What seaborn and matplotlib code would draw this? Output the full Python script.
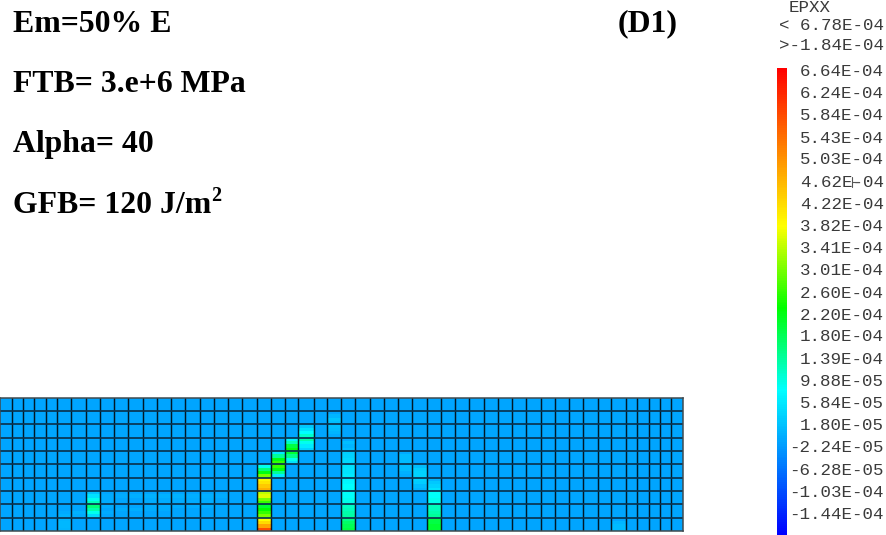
import numpy as np
import pandas as pd
import seaborn as sns
import matplotlib
matplotlib.use("Agg")
import matplotlib.pyplot as plt
from matplotlib.colors import LinearSegmentedColormap
from matplotlib.lines import Line2D

# ---- data (strain in units of 1e-4) ----
col_edges = [0, 11.7, 23.3, 34.3, 45.7, 57.3, 71, 86, 100.3, 114, 128.3, 143.3, 157.3, 171, 185.3,
             199.7, 214, 228, 242, 256.7, 270.7, 284.7, 298.3, 313.7, 327.3, 341.3, 355.3, 370,
             384.3, 398.3, 412.3, 427.3, 441.3, 455.3, 469.3, 484, 498.3, 512, 526.3, 541, 555,
             569, 583, 597.7, 611.3, 625.7, 637.3, 649, 660.3, 670.7, 682.7]
n_rows = 10
background = -0.13
hot_cells = [
    # (column, row from top, values of four bands from top to bottom)
    (19, 5, [0.9, 1.6, 2.2, 3.0]), (19, 6, [3.9, 4.1, 4.4, 4.7]), (19, 7, [3.4, 3.6, 3.0, 2.6]),
    (19, 8, [2.0, 2.3, 2.6, 3.0]), (19, 9, [3.8, 4.2, 4.8, 5.8]),
    (20, 4, [0.6, 1.4, 2.2, 2.6]), (20, 5, [2.6, 2.2, 1.4, 0.6]),
    (21, 3, [0.7, 1.2, 1.9, 2.2]), (21, 4, [2.0, 1.5, 0.9, 0.5]),
    (22, 2, [0.25, 0.5, 0.8, 1.1]), (22, 3, [1.3, 0.9, 0.6, 0.35]),
    (24, 1, [-0.13, 0.05, 0.2, 0.15]), (24, 2, [0.15, 0.12, 0.05, -0.05]),
    (25, 3, [-0.05, 0.15, 0.05, 0.15]), (25, 4, [0.3, 0.35, 0.4, 0.4]), (25, 5, [0.5, 0.55, 0.55, 0.6]),
    (25, 6, [0.7, 0.75, 0.8, 0.85]), (25, 7, [0.85, 0.85, 0.9, 0.95]), (25, 8, [1.15, 1.2, 1.3, 1.35]),
    (25, 9, [1.5, 1.7, 1.8, 1.9]),
    (7, 7, [0.2, 0.5, 0.9, 1.2]), (7, 8, [1.6, 1.3, 0.9, 0.45]),
    (5, 8, [-0.13, -0.13, -0.05, 0.0]), (5, 9, [0.05, 0.08, 0.08, 0.05]),
    (6, 8, [-0.13, -0.13, 0.0, -0.05]),
    (29, 4, [-0.05, 0.1, 0.12, 0.12]), (29, 5, [0.12, 0.1, 0.0, -0.05]),
    (30, 5, [0.15, 0.3, 0.35, 0.35]), (30, 6, [0.35, 0.3, 0.15, 0.05]),
    (31, 6, [0.05, 0.25, 0.35, 0.5]), (31, 7, [0.85, 0.85, 0.9, 0.9]), (31, 8, [1.2, 1.2, 1.3, 1.4]),
    (31, 9, [1.9, 1.9, 2.0, 2.0]),
    (44, 9, [-0.13, 0.05, 0.12, 0.1]),
    (8, 7, [-0.13, -0.05, -0.05, -0.05]), (8, 8, [-0.05, -0.13, -0.05, -0.13]),
    (9, 7, [-0.13, -0.05, -0.13, -0.13]), (9, 8, [-0.13, -0.05, -0.13, -0.13]),
    (10, 7, [-0.13, -0.02, -0.13, -0.13]), (10, 8, [-0.13, -0.02, -0.13, -0.13]),
    (11, 7, [-0.13, 0.02, -0.05, -0.05]), (11, 8, [-0.05, -0.05, -0.13, -0.13]),
    (12, 7, [-0.13, 0.02, -0.05, -0.05]), (12, 8, [-0.05, -0.05, -0.13, -0.13]),
    (13, 7, [-0.13, 0.02, -0.05, -0.05]), (13, 8, [-0.05, -0.13, -0.13, -0.13]),
    (14, 7, [-0.13, -0.02, -0.05, -0.05]), (14, 8, [-0.05, -0.13, -0.13, -0.13]),
    (15, 7, [-0.13, -0.02, -0.05, -0.05]), (15, 8, [-0.05, -0.13, -0.13, -0.13]),
    (16, 7, [-0.13, -0.05, -0.13, -0.13]),
]
cbar_values = [6.64, 6.24, 5.84, 5.43, 5.03, 4.62, 4.22, 3.82, 3.41, 3.01, 2.60, 2.20, 1.80, 1.39,
               0.988, 0.584, 0.180, -0.224, -0.628, -1.03, -1.44]
cbar_labels = ["6.64E-04", "6.24E-04", "5.84E-04", "5.43E-04", "5.03E-04", "4.62E-04", "4.22E-04",
               "3.82E-04", "3.41E-04", "3.01E-04", "2.60E-04", "2.20E-04", "1.80E-04", "1.39E-04",
               "9.88E-05", "5.84E-05", "1.80E-05", "-2.24E-05", "-6.28E-05", "-1.03E-04", "-1.44E-04"]
value_min, value_max = -1.84, 6.68
note_lines = ["Em=50% E", "FTB= 3.e+6 MPa", "Alpha= 40", "GFB= 120 J/m"]

# ---- build the field ----
W, H = 887, 535
bands = 4
n_cols = len(col_edges) - 1
cells = np.full((n_rows * bands, n_cols), background, dtype=float)
for c, r, vals in hot_cells:
    cells[r * bands:(r + 1) * bands, c] = vals
px_edges = np.round(col_edges).astype(int)
field = pd.DataFrame(np.repeat(cells, np.diff(px_edges), axis=1))

sns.set_theme(style="white")
rainbow = LinearSegmentedColormap.from_list(
    "rainbow64",
    [(0.0, "#0000ff"), (0.31, "#00ffff"), (0.486, "#00ff00"), (0.662, "#ffff00"), (1.0, "#ff0000")],
    N=256)

fig = plt.figure(figsize=(W / 100, H / 100), dpi=100, facecolor="white")
def box(x0, y0, x1, y1):
    return [x0 / W, 1 - y1 / H, (x1 - x0) / W, (y1 - y0) / H]

ax = fig.add_axes(box(0, 397.5, 683, 531))
cax = fig.add_axes(box(777, 68, 787, 535))
sns.heatmap(field, ax=ax, cbar_ax=cax, cmap=rainbow, vmin=value_min, vmax=value_max,
            xticklabels=False, yticklabels=False, cbar=True)

# mesh
for e in px_edges[1:-1]:
    ax.axvline(e, color="#02101a", lw=1.05, alpha=0.95)
for k in range(1, n_rows):
    ax.axhline(k * bands, color="#0a3350", lw=1.25)
for side in ax.spines.values():
    side.set_visible(True)
    side.set_color("#3f4a50")
    side.set_linewidth(1.1)

# colour bar labels
mono = "Liberation Mono"
txt = "#3a3a3a"
cbar = ax.collections[0].colorbar
cbar.outline.set_visible(False)
cbar.set_ticks(cbar_values, labels=cbar_labels)
cax.tick_params(length=0, pad=(884 - 787) * 0.72, labelsize=12.6, labelcolor=txt)
for t in cax.get_yticklabels():
    t.set_ha("right")
    t.set_va("center_baseline")
    t.set_family(mono)

def ftext(x, y, s, **kw):
    fig.text(x / W, 1 - y / H, s, **kw)

ftext(789, 7, "EPXX", family=mono, fontsize=12.6, color=txt, va="center", ha="left")
ftext(884, 25, "< 6.78E-04", family=mono, fontsize=12.6, color=txt, va="center", ha="right")
ftext(884, 45, ">-1.84E-04", family=mono, fontsize=12.6, color=txt, va="center", ha="right")
fig.add_artist(Line2D([852 / W, 852 / W], [1 - 177 / H, 1 - 187 / H], color="#555555", lw=0.8))
fig.add_artist(Line2D([852 / W, 859 / W], [1 - 182 / H, 1 - 182 / H], color="#555555", lw=0.8))

# notes
serif = "Liberation Serif"
for s, base in zip(note_lines, [31.5, 92, 152, 213]):
    ftext(13, base, s, family=serif, weight="bold", fontsize=22.9, color="black", va="baseline", ha="left")
ftext(678, 31.5, "(D1)", family=serif, weight="bold", fontsize=22.9, color="black", va="baseline", ha="right")
ftext(211, 201, "2", family=serif, weight="bold", fontsize=14.5, color="black", va="baseline", ha="left")

fig.savefig("out.png", dpi=100, facecolor="white")
